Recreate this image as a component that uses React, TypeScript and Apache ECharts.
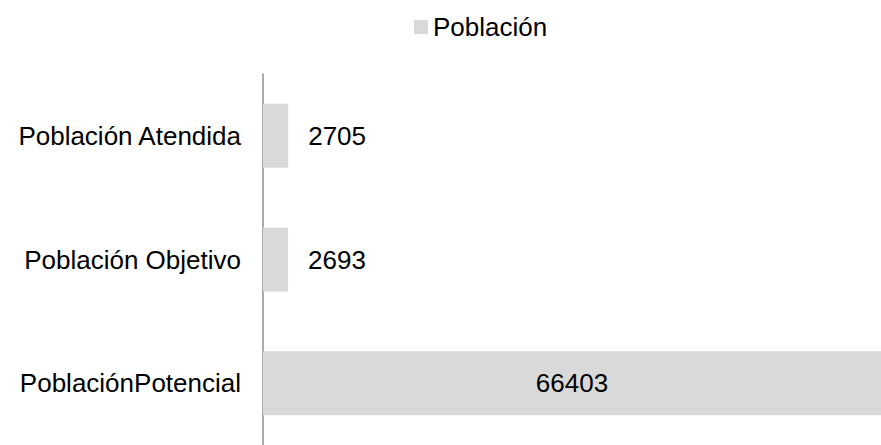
import React, { useEffect, useRef } from "react";
import * as echarts from "echarts";

const categories = ["PoblaciónPotencial", "Población Objetivo", "Población Atendida"];
const values = [66403, 2693, 2705];
const seriesName = "Población";

export default function App() {
  const ref = useRef<HTMLDivElement>(null);
  useEffect(() => {
    if (!ref.current) return;
    const chart = echarts.init(ref.current, null, { renderer: "svg" });
    const maxVal = Math.max(...values);
    chart.setOption({
      animation: false,
      textStyle: { fontFamily: "Liberation Sans, Arial, sans-serif" },
      legend: {
        data: [seriesName],
        left: 409,
        top: 9,
        itemWidth: 14,
        itemHeight: 14,
        icon: "rect",
        textStyle: { fontSize: 26, color: "#000", fontFamily: "Liberation Sans, Arial, sans-serif" },
      },
      grid: { left: 263, right: -11, top: 74, bottom: -6, containLabel: false },
      xAxis: {
        type: "value",
        min: 0,
        max: maxVal,
        show: false,
        splitLine: { show: false },
      },
      yAxis: {
        type: "category",
        data: categories,
        axisLine: { show: true, lineStyle: { color: "#8f8f8f", width: 1.5 } },
        axisTick: { show: false },
        axisLabel: {
          margin: 22,
          fontSize: 26,
          color: "#000",
          fontFamily: "Liberation Sans, Arial, sans-serif",
        },
      },
      series: [
        {
          name: seriesName,
          type: "bar",
          barWidth: 64,
          clip: false,
          itemStyle: { color: "#d9d9d9" },
          label: {
            show: true,
            position: "right",
            distance: 20,
            fontSize: 26,
            color: "#000",
            fontFamily: "Liberation Sans, Arial, sans-serif",
          },
          data: values.map((v) =>
            v === maxVal
              ? { value: v, label: { position: "inside" } }
              : { value: v }
          ),
        },
      ],
    });
    return () => chart.dispose();
  }, []);
  return (
    <div
      ref={ref}
      style={{ position: "absolute", left: 0, top: 0, width: 881, height: 445 }}
    />
  );
}
